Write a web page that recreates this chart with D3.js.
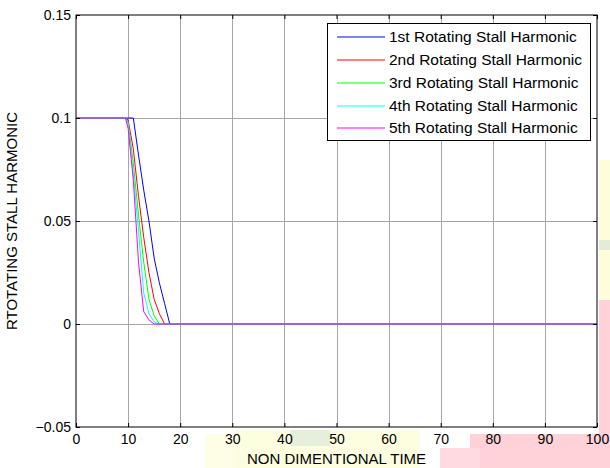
<!DOCTYPE html>
<html>
<head>
<meta charset="utf-8">
<script src="https://cdn.jsdelivr.net/npm/d3@7"></script>
<style>
  body { margin: 0; background: #fff; }
  svg { display: block; font-family: "Liberation Sans", Arial, sans-serif; }
</style>
</head>
<body>
<div id="main"></div>
<script>
const width = 610;
const height = 468;
const margin = { left: 76, right: 13, top: 15, bottom: 41 };

// time samples (non dimentional time)
const timeSteps = [0, 9, 9.5, 10, 11, 12, 13, 14, 15, 16, 17, 18, 100];
const harmonic1 = [0.1, 0.1, 0.1, 0.1, 0.1, 0.082, 0.065, 0.05, 0.032, 0.02, 0.01, 0, 0];
const harmonic2 = [0.1, 0.1, 0.1, 0.099, 0.085, 0.062, 0.042, 0.025, 0.012, 0.005, 0, 0, 0];
const harmonic3 = [0.1, 0.1, 0.1, 0.098, 0.078, 0.053, 0.03, 0.012, 0.004, 0, 0, 0, 0];
const harmonic4 = [0.1, 0.1, 0.1, 0.097, 0.073, 0.045, 0.015, 0.005, 0.001, 0, 0, 0, 0];
const harmonic5 = [0.1, 0.1, 0.1, 0.095, 0.07, 0.03, 0.006, 0.002, 0, 0, 0, 0, 0];
const seriesNames = [
  "1st Rotating Stall Harmonic",
  "2nd Rotating Stall Harmonic",
  "3rd Rotating Stall Harmonic",
  "4th Rotating Stall Harmonic",
  "5th Rotating Stall Harmonic",
];
const seriesColors = ["#0000ff", "#ff0000", "#00ff00", "#00ffff", "#ff00ff"];
const xTicks = [0, 10, 20, 30, 40, 50, 60, 70, 80, 90, 100];
const yTicks = [-0.05, 0, 0.05, 0.1, 0.15];

const allSeries = [harmonic1, harmonic2, harmonic3, harmonic4, harmonic5];

let svg = d3
  .select("#main")
  .append("svg")
  .attr("width", width)
  .attr("height", height);

// faint background smudges seen around the figure
let smudges = svg.append("g").attr("class", "smudges");
const smudgeRects = [
  [205, 434, 60, 34, "#fefee6"],
  [235, 430, 185, 38, "#fdfde0"],
  [290, 430, 40, 16, "#e6eedc"],
  [599, 160, 11, 140, "#fdfddc"],
  [599, 240, 11, 10, "#e4ecd8"],
  [599, 300, 11, 168, "#ffd2da"],
  [470, 434, 140, 34, "#ffd2da"],
  [440, 448, 40, 20, "#ffdbe1"],
];
smudges
  .selectAll("rect")
  .data(smudgeRects)
  .enter()
  .append("rect")
  .attr("x", (d) => d[0])
  .attr("y", (d) => d[1])
  .attr("width", (d) => d[2])
  .attr("height", (d) => d[3])
  .attr("fill", (d) => d[4]);

const x = d3
  .scaleLinear()
  .domain([0, 100])
  .range([margin.left, width - margin.right]);
const y = d3
  .scaleLinear()
  .domain([-0.05, 0.15])
  .range([height - margin.bottom, margin.top]);

// plot background
svg
  .append("rect")
  .attr("x", x(0))
  .attr("y", y(0.15))
  .attr("width", x(100) - x(0))
  .attr("height", y(-0.05) - y(0.15))
  .attr("fill", "#fff");

// grid
let grid = svg.append("g").attr("class", "grid");
grid
  .selectAll(".vgrid")
  .data(xTicks.slice(1, -1))
  .enter()
  .append("line")
  .attr("x1", (d) => Math.round(x(d)) + 0.5)
  .attr("x2", (d) => Math.round(x(d)) + 0.5)
  .attr("y1", y(0.15))
  .attr("y2", y(-0.05))
  .attr("stroke", "#a6a6a6")
  .attr("stroke-width", 1);
grid
  .selectAll(".hgrid")
  .data(yTicks.slice(1, -1))
  .enter()
  .append("line")
  .attr("y1", (d) => Math.round(y(d)) + 0.5)
  .attr("y2", (d) => Math.round(y(d)) + 0.5)
  .attr("x1", x(0))
  .attr("x2", x(100))
  .attr("stroke", "#a6a6a6")
  .attr("stroke-width", 1);

// lines
const line = d3
  .line()
  .x((d, i) => x(timeSteps[i]))
  .y((d) => y(d));

svg
  .append("g")
  .attr("class", "series")
  .selectAll("path")
  .data(allSeries)
  .enter()
  .append("path")
  .attr("d", (d) => line(d))
  .attr("fill", "none")
  .attr("stroke", (d, i) => seriesColors[i])
  .attr("stroke-width", 1);

// axes (inward ticks, box on)
const tickLen = 4;
svg
  .append("g")
  .attr("transform", `translate(0,${y(-0.05)})`)
  .call(d3.axisBottom(x).tickValues(xTicks).tickSizeInner(-tickLen).tickSizeOuter(0).tickPadding(7))
  .call((g) => g.select(".domain").remove());
svg
  .append("g")
  .attr("transform", `translate(0,${y(0.15)})`)
  .call(d3.axisTop(x).tickValues(xTicks).tickSizeInner(-tickLen).tickSizeOuter(0).tickFormat(""))
  .call((g) => g.select(".domain").remove());
svg
  .append("g")
  .attr("transform", `translate(${x(0)},0)`)
  .call(d3.axisLeft(y).tickValues(yTicks).tickSizeInner(-tickLen).tickSizeOuter(0).tickPadding(5).tickFormat((d) => d3.format("")(+d.toFixed(2))))
  .call((g) => g.select(".domain").remove());
svg
  .append("g")
  .attr("transform", `translate(${x(100)},0)`)
  .call(d3.axisRight(y).tickValues(yTicks).tickSizeInner(-tickLen).tickSizeOuter(0).tickFormat(""))
  .call((g) => g.select(".domain").remove());

svg.selectAll(".tick text").attr("font-size", 14).attr("font-family", "Liberation Sans, Arial, sans-serif").attr("fill", "#000");
svg.selectAll(".tick line").attr("stroke", "#000");

svg
  .append("rect")
  .attr("x", x(0))
  .attr("y", y(0.15))
  .attr("width", x(100) - x(0))
  .attr("height", y(-0.05) - y(0.15))
  .attr("fill", "none")
  .attr("stroke", "#000")
  .attr("stroke-width", 1);

// axis titles
svg
  .append("text")
  .attr("x", (x(0) + x(100)) / 2)
  .attr("y", 464)
  .attr("text-anchor", "middle")
  .attr("font-size", 15)
  .text("NON DIMENTIONAL TIME");
svg
  .append("text")
  .attr("transform", `translate(17,${(y(-0.05) + y(0.15)) / 2}) rotate(-90)`)
  .attr("text-anchor", "middle")
  .attr("font-size", 15)
  .text("RTOTATING STALL HARMONIC");

// legend
let legend = svg.append("g").attr("class", "legend");
legend
  .append("rect")
  .attr("x", 327.5)
  .attr("y", 23.5)
  .attr("width", 263)
  .attr("height", 117)
  .attr("fill", "#fff")
  .attr("stroke", "#000");
const legendRows = [37, 60, 83, 106, 128];
seriesNames.forEach((name, i) => {
  legend
    .append("line")
    .attr("x1", 337)
    .attr("x2", 385)
    .attr("y1", legendRows[i])
    .attr("y2", legendRows[i])
    .attr("stroke", seriesColors[i]);
  legend
    .append("text")
    .attr("x", 389)
    .attr("y", legendRows[i] + 5)
    .attr("font-size", 15.5)
    .text(name);
});
</script>
</body>
</html>
